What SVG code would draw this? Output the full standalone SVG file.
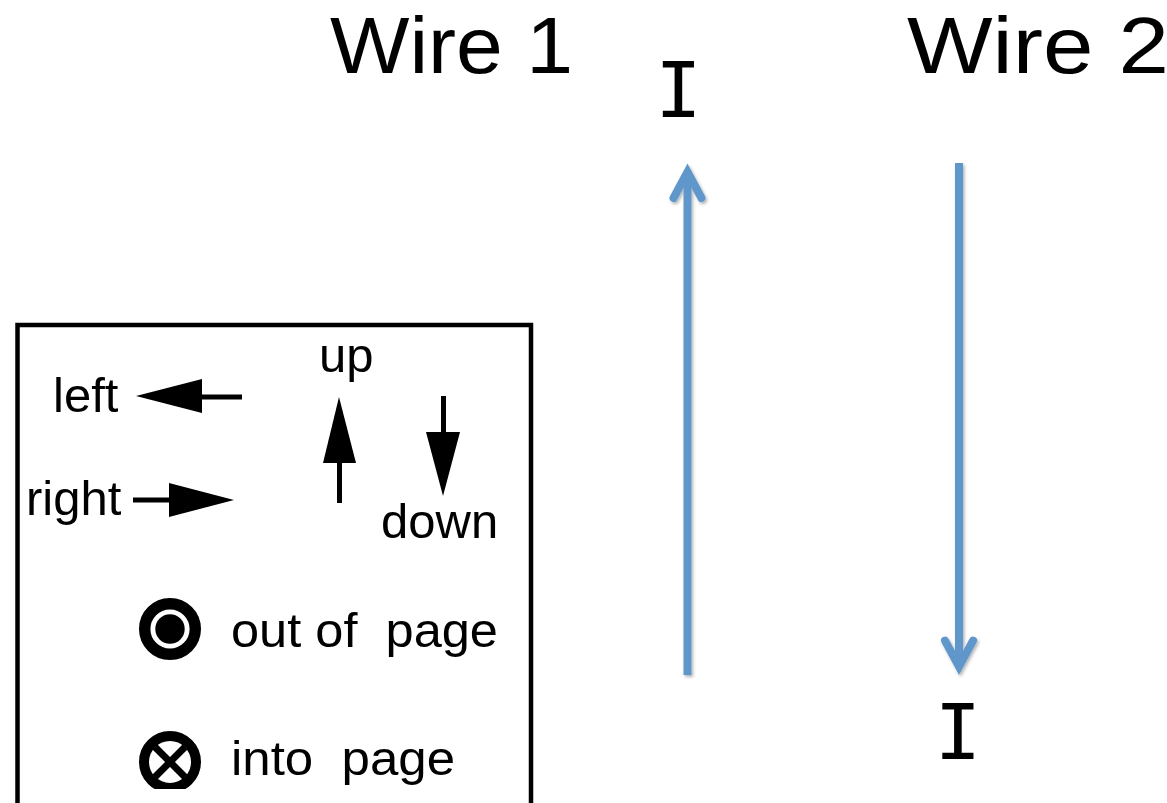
<svg xmlns="http://www.w3.org/2000/svg" width="1167" height="803" viewBox="0 0 1167 803">
  <style>
    .title { font-family: "Liberation Sans", Arial, sans-serif; font-size: 80px; fill: #000; }
    .cur { font-family: "DejaVu Sans Mono", monospace; font-size: 77px; fill: #000; }
    .lg { font-family: "Liberation Sans", Arial, sans-serif; font-size: 49px; fill: #000; white-space: pre; }
    .wire { stroke: #6197cb; stroke-width: 8; fill: none; }
    .head { stroke: #6197cb; stroke-width: 8; fill: none; stroke-linejoin: miter; stroke-linecap: round; stroke-miterlimit: 10; }
    .blk { fill: #000; }
    .shaft { stroke: #000; stroke-width: 5; }
  </style>
  <defs>
    <filter id="soft" x="-50%" y="-5%" width="200%" height="110%">
      <feDropShadow dx="1.5" dy="2" stdDeviation="1.5" flood-color="#000" flood-opacity="0.3"/>
    </filter>
    <clipPath id="legendClip">
      <rect x="0" y="320" width="540" height="469"/>
    </clipPath>
  </defs>
  <rect width="1167" height="803" fill="#fff"/>

  <!-- wire titles and current labels -->
  <g id="wire1-label">
    <text class="title" x="330" y="73" textLength="243" lengthAdjust="spacingAndGlyphs">Wire 1</text>
    <text class="cur" x="678.5" y="117" text-anchor="middle">I</text>
  </g>
  <g id="wire2-label">
    <text class="title" x="907" y="73" textLength="262" lengthAdjust="spacingAndGlyphs">Wire 2</text>
    <text class="cur" x="958" y="759" text-anchor="middle">I</text>
  </g>

  <!-- current directions -->
  <g id="connectors" filter="url(#soft)">
    <g id="wire1">
      <line class="wire" x1="687.5" y1="675" x2="687.5" y2="174"/>
      <polyline class="head" points="673.5,198 687.5,172 701.5,198"/>
    </g>
    <g id="wire2">
      <line class="wire" x1="959" y1="163" x2="959" y2="664"/>
      <polyline class="head" points="945,640.6 959,666.6 973,640.6"/>
    </g>
  </g>

  <!-- direction legend -->
  <g id="legend">
    <rect x="17.5" y="325" width="513.5" height="500" fill="none" stroke="#000" stroke-width="4.5"/>
    <g clip-path="url(#legendClip)">
      <g id="legend-left">
        <text class="lg" x="53" y="412">left</text>
        <polygon class="blk" points="136,396 202,379 202,413"/>
        <line class="shaft" x1="200" y1="397" x2="242" y2="397"/>
      </g>
      <g id="legend-right">
        <text class="lg" x="26" y="515">right</text>
        <line class="shaft" x1="133" y1="500" x2="171" y2="500"/>
        <polygon class="blk" points="169,483 169,517 234,500"/>
      </g>
      <g id="legend-up">
        <text class="lg" x="319" y="372">up</text>
        <polygon class="blk" points="339,397 323,463 356,463"/>
        <line class="shaft" x1="339.5" y1="461" x2="339.5" y2="503"/>
      </g>
      <g id="legend-down">
        <line class="shaft" x1="443.5" y1="396" x2="443.5" y2="434"/>
        <polygon class="blk" points="426,432 460,432 443,496"/>
        <text class="lg" x="381" y="538">down</text>
      </g>
      <g id="legend-out">
        <circle cx="170" cy="629" r="25.3" fill="none" stroke="#000" stroke-width="11.4"/>
        <circle cx="170" cy="629" r="14.7" fill="#000"/>
        <text class="lg" x="231" y="647" textLength="267" lengthAdjust="spacingAndGlyphs">out of  page</text>
      </g>
      <g id="legend-in">
        <circle cx="170" cy="762" r="26" fill="none" stroke="#000" stroke-width="10"/>
        <line x1="155" y1="747" x2="185" y2="777" stroke="#000" stroke-width="7"/>
        <line x1="185" y1="747" x2="155" y2="777" stroke="#000" stroke-width="7"/>
        <text class="lg" x="231" y="775" textLength="224" lengthAdjust="spacingAndGlyphs">into  page</text>
      </g>
    </g>
  </g>
</svg>
